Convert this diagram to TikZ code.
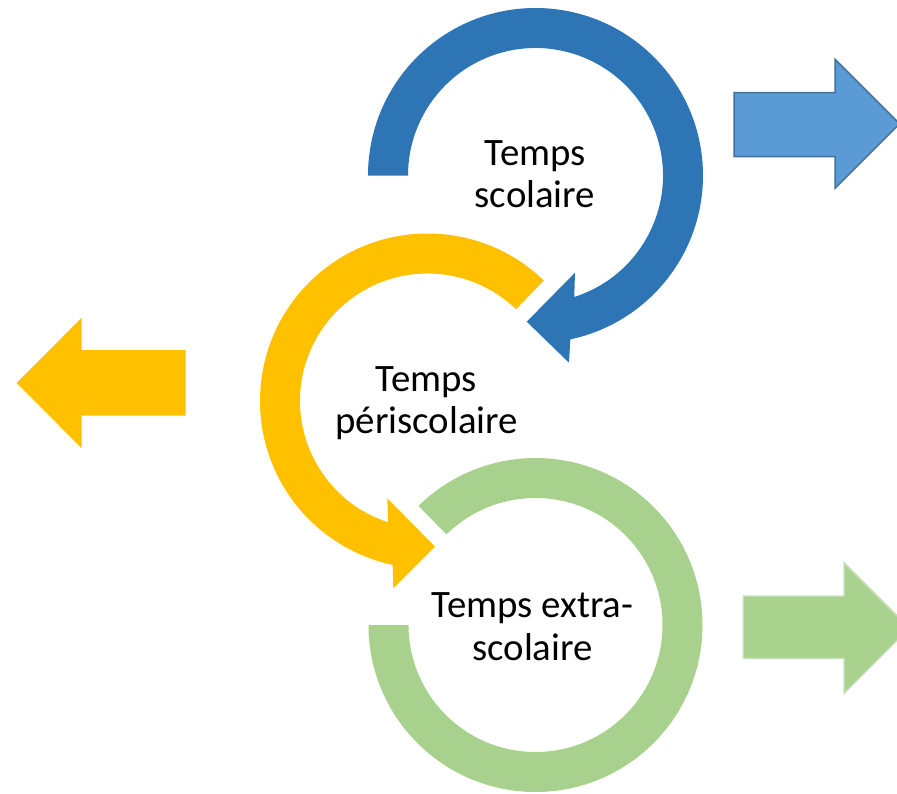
\documentclass[tikz,border=0pt]{standalone}
\usepackage{fontspec}
\setmainfont{Carlito}
\usetikzlibrary{calc}
\definecolor{ringblue}{HTML}{2E75B6}
\definecolor{arrblue}{HTML}{5B9BD5}
\definecolor{arrblueline}{HTML}{41719C}
\definecolor{ringyellow}{HTML}{FFC000}
\definecolor{ringgreen}{HTML}{A9D18E}
\definecolor{arrgreenline}{HTML}{C5E0B4}
\tikzset{
  lbl/.style={anchor=base, inner sep=0pt, font=\fontsize{38.8}{42.7}\selectfont},
  sidearrow/.style={line width=1.5pt, line join=miter}
}
\begin{document}
\begin{tikzpicture}[x=1pt,y=-1pt]
\useasboundingbox (0,0) rectangle (897,793);
\coordinate (cb) at (535.5,175.5);
\coordinate (cy) at (427.5,401);
\coordinate (cg) at (535.5,625);
% blue circular arrow
\fill[ringblue] ($(cb)+(-180:167.5)$) arc[start angle=-180, end angle=78, radius=167.5]
  -- (569,362.7) -- (526.7,321.7) -- (575,272.7)
  -- ($(cb)+(72.3:127.5)$) arc[start angle=72.3, end angle=-180, radius=127.5] -- cycle;
% yellow circular arrow
\fill[ringyellow] ($(cy)+(-46:167.5)$) arc[start angle=-46, end angle=-258, radius=167.5]
  -- (393.3,588.3) -- (435,546.7) -- (387.3,498.3)
  -- ($(cy)+(-252:127.5)$) arc[start angle=-252, end angle=-46, radius=127.5] -- cycle;
% green ring
\fill[ringgreen] ($(cg)+(-180:167)$) arc[start angle=-180, end angle=-494.5, radius=167]
  -- ($(cg)+(-494.5:127)$) arc[start angle=-494.5, end angle=-180, radius=127] -- cycle;
% side arrows
\draw[sidearrow, draw=arrblueline, fill=arrblue] (734,92.7) -- (835,92.7) -- (835,59.3) -- (899.5,123.8)
  -- (835,188.3) -- (835,156.7) -- (734,156.7) -- cycle;
\fill[ringyellow] (16.7,383) -- (81.7,317.7) -- (81.7,350) -- (185.7,350) -- (185.7,415.7)
  -- (81.7,415.7) -- (81.7,448.3) -- cycle;
\draw[sidearrow, draw=arrgreenline, fill=ringgreen] (743.3,596) -- (844,596) -- (844,562.7) -- (909.3,628)
  -- (844,693.3) -- (844,658.3) -- (743.3,658.3) -- cycle;
% labels
\node[lbl] (b1) at (535.5,165) {Temps};
\node[lbl] (b2) at (535,207.7) {scolaire};
\node[lbl] (y1) at (426.3,391.7) {Temps};
\node[lbl] (y2) at (426.7,433.3) {périscolaire};
\node[lbl] (g1) at (532.5,617.3) {Temps extra-};
\node[lbl] (g2) at (532.5,660) {scolaire};
\end{tikzpicture}
\end{document}
